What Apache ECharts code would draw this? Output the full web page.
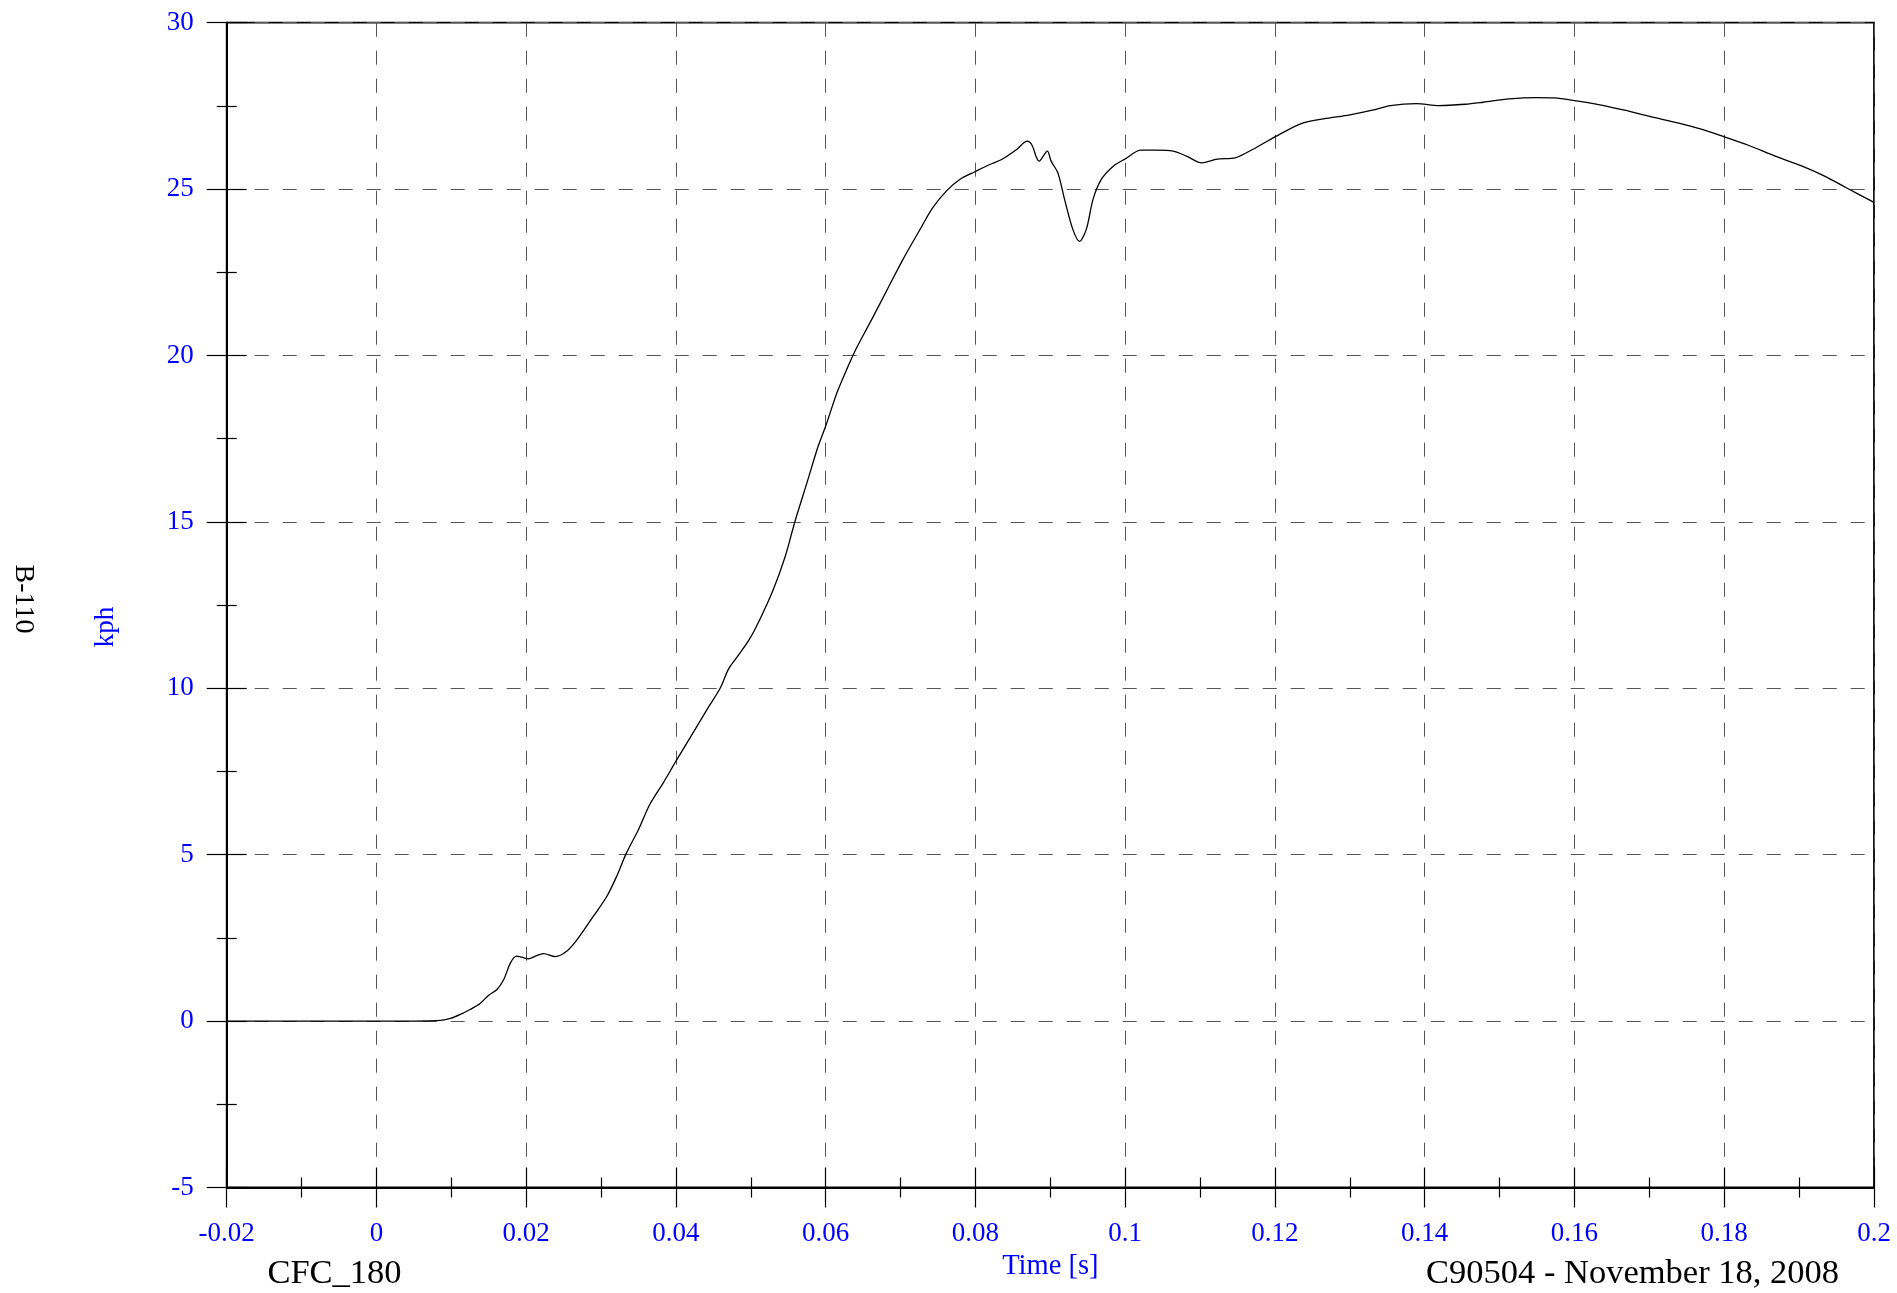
<!DOCTYPE html>
<html>
<head>
<meta charset="utf-8">
<script src="https://cdn.jsdelivr.net/npm/echarts@6/dist/echarts.min.js"></script>
<style>
html,body{margin:0;padding:0;background:#fff;}
#chart{width:1897px;height:1293px;}
</style>
</head>
<body>
<div id="chart"></div>
<script>
// ---- data ----
const timeS = [
  -0.02, -0.01, 0.000, 0.005, 0.0086, 0.0099, 0.0112, 0.0125, 0.0138, 0.0150,
  0.0161, 0.0170, 0.0179, 0.0187, 0.0194, 0.0203, 0.0213, 0.0223, 0.0239, 0.0254,
  0.0268, 0.0290, 0.0308, 0.0321, 0.0333, 0.0350, 0.0365, 0.0383, 0.0400, 0.0423,
  0.0443, 0.0459, 0.0470, 0.0481, 0.0498, 0.0512, 0.0530, 0.0546, 0.0559, 0.0575,
  0.0590, 0.0600, 0.0615, 0.0628, 0.0639, 0.0659, 0.0681, 0.0703, 0.0726, 0.0743,
  0.0761, 0.0779, 0.0800, 0.0819, 0.0835, 0.0855, 0.0869, 0.0875, 0.0885, 0.0896,
  0.0901, 0.0910, 0.0919, 0.0930, 0.0939, 0.0948, 0.0957, 0.0968, 0.0984, 0.1000,
  0.1021, 0.1041, 0.1064, 0.1082, 0.1102, 0.1123, 0.1147, 0.1170, 0.1200, 0.1235,
  0.1265, 0.1300, 0.1330, 0.1354, 0.1389, 0.1419, 0.1454, 0.1478, 0.1513, 0.1549,
  0.1573, 0.1600, 0.1632, 0.1667, 0.1703, 0.1738, 0.1768, 0.1800, 0.1833, 0.1868,
  0.1904, 0.1934, 0.1963, 0.2000
];
const velocityKph = [
  0, 0, 0, 0, 0.02, 0.08, 0.20, 0.35, 0.52, 0.78,
  0.95, 1.25, 1.75, 1.95, 1.92, 1.87, 1.96, 2.03, 1.94, 2.10,
  2.45, 3.16, 3.76, 4.36, 5.01, 5.76, 6.51, 7.16, 7.81, 8.67,
  9.42, 10.00, 10.57, 10.92, 11.47, 12.07, 12.97, 13.97, 15.02, 16.18,
  17.28, 17.88, 18.88, 19.58, 20.13, 20.98, 21.93, 22.88, 23.79, 24.44,
  24.94, 25.29, 25.53, 25.74, 25.89, 26.19, 26.44, 26.34, 25.84, 26.14,
  25.84, 25.49, 24.69, 23.79, 23.43, 23.79, 24.69, 25.29, 25.69, 25.91,
  26.17, 26.17, 26.14, 25.99, 25.79, 25.90, 25.94, 26.19, 26.57, 26.97,
  27.11, 27.23, 27.37, 27.51, 27.57, 27.51, 27.55, 27.61, 27.71, 27.75,
  27.74, 27.66, 27.54, 27.37, 27.17, 26.99, 26.81, 26.57, 26.31, 25.99,
  25.69, 25.39, 25.04, 24.60
];
const xTickLabels = ['-0.02','0','0.02','0.04','0.06','0.08','0.1','0.12','0.14','0.16','0.18','0.2'];
const yTickLabels = ['-5','0','5','10','15','20','25','30'];
const xName = 'Time [s]';
const yName = 'kph';
const channelName = 'B-110';
const filterText = 'CFC_180';
const testText = 'C90504 - November 18, 2008';

const X_MIN = -0.02, X_MAX = 0.2, X_INT = 0.02;
const Y_MIN = -5, Y_MAX = 30, Y_INT = 5;

const points = timeS.map((t, i) => [t, velocityKph[i]]);

const FONT = '"Liberation Serif", "Times New Roman", serif';
const BLUE = '#0000ff';

const chart = echarts.init(document.getElementById('chart'), null, {renderer: 'canvas'});

const xLabelFmt = v => xTickLabels[Math.round((v - X_MIN) / X_INT)] ?? '';
const yLabelFmt = v => yTickLabels[Math.round((v - Y_MIN) / Y_INT)] ?? '';

const gridLine = {show: true, lineStyle: {color: '#555', width: 1, type: [14, 14]}};

chart.setOption({
  animation: false,
  backgroundColor: '#fff',
  grid: {left: 226.7, top: 22.7, right: 23, bottom: 105.5, show: true,
         borderColor: '#000', borderWidth: 1.8, backgroundColor: 'transparent'},
  xAxis: [
    {
      type: 'value', min: X_MIN, max: X_MAX, interval: X_INT, position: 'bottom',
      axisLine: {show: true, onZero: false, lineStyle: {color: '#000', width: 2}},
      axisTick: {show: true, inside: false, length: 20, lineStyle: {color: '#000', width: 1.2}},
      minorTick: {show: true, splitNumber: 2, length: 10, lineStyle: {color: '#000', width: 1.2}},
      axisLabel: {show: true, margin: 33, color: BLUE, fontFamily: FONT, fontSize: 27,
                  formatter: xLabelFmt, showMinLabel: true, showMaxLabel: true},
      splitLine: gridLine,
      name: xName, nameLocation: 'middle', nameGap: 50,
      nameTextStyle: {color: BLUE, fontFamily: FONT, fontSize: 28.5}
    },
    {
      type: 'value', min: X_MIN, max: X_MAX, interval: X_INT, position: 'bottom',
      axisLine: {show: false, onZero: false},
      axisTick: {show: true, inside: true, length: 20, lineStyle: {color: '#000', width: 1.2}},
      minorTick: {show: true, splitNumber: 2, length: 10, lineStyle: {color: '#000', width: 1.2}},
      axisLabel: {show: false},
      splitLine: {show: false}
    }
  ],
  yAxis: [
    {
      type: 'value', min: Y_MIN, max: Y_MAX, interval: Y_INT, position: 'left',
      axisLine: {show: true, onZero: false, lineStyle: {color: '#000', width: 2}},
      axisTick: {show: true, inside: false, length: 20, lineStyle: {color: '#000', width: 1.2}},
      minorTick: {show: true, splitNumber: 2, length: 10, lineStyle: {color: '#000', width: 1.2}},
      axisLabel: {show: true, margin: 33, color: BLUE, fontFamily: FONT, fontSize: 27,
                  formatter: yLabelFmt, showMinLabel: true, showMaxLabel: true},
      splitLine: gridLine
    },
    {
      type: 'value', min: Y_MIN, max: Y_MAX, interval: Y_INT, position: 'left',
      axisLine: {show: false, onZero: false},
      axisTick: {show: true, inside: true, length: 20, lineStyle: {color: '#000', width: 1.2}},
      minorTick: {show: true, splitNumber: 2, length: 10, lineStyle: {color: '#000', width: 1.2}},
      axisLabel: {show: false},
      splitLine: {show: false}
    }
  ],
  series: [{
    type: 'line', xAxisIndex: 0, yAxisIndex: 0,
    data: points, showSymbol: false, smooth: 0.3,
    lineStyle: {color: '#000', width: 1.3}, clip: true
  }],
  graphic: [
    {type: 'text', x: 106, y: 627, rotation: Math.PI / 2,
     style: {text: yName, fill: BLUE, font: '27px ' + FONT, textAlign: 'center', textVerticalAlign: 'middle'}},
    {type: 'text', x: 23, y: 599, rotation: -Math.PI / 2,
     style: {text: channelName, fill: '#000', font: '28px ' + FONT, textAlign: 'center', textVerticalAlign: 'middle'}},
    {type: 'text', x: 334.5, y: 1274,
     style: {text: filterText, fill: '#000', font: '34.5px ' + FONT, textAlign: 'center', textVerticalAlign: 'middle'}},
    {type: 'text', x: 1839, y: 1274,
     style: {text: testText, fill: '#000', font: '34.5px ' + FONT, textAlign: 'right', textVerticalAlign: 'middle'}}
  ]
});
</script>
</body>
</html>
